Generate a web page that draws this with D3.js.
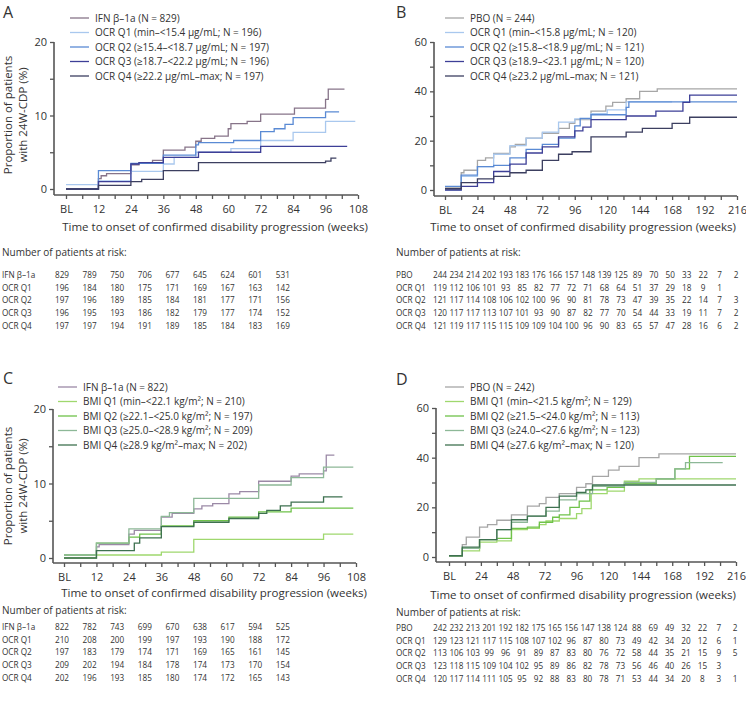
<!DOCTYPE html>
<html><head><meta charset="utf-8">
<script src="https://cdn.jsdelivr.net/npm/d3@7"></script>
<style>
body{margin:0;background:#fff;}
svg text{font-family:"Open Sans",sans-serif;fill:#333;}
</style>
</head><body>
<svg id="c" width="746" height="706"></svg>
<script>
// ---------- DATA ----------
// step curves: [week, cumulative % with 24W-CDP]; last point = end of follow-up
const A_IFN = [[0,0],[12,1.4],[13,1.8],[15,2.1],[24,3.3],[27,3.6],[32,3.9],[36,5.3],[44,5.7],[48,6.5],[50,6.9],[55,7.2],[60,8.2],[61,8.9],[67,9.2],[72,10.2],[84.5,11.0],[96,12.2],[97,13.6],[103,13.6]];
const A_Q1 = [[0,0.6],[12,1.1],[24,2.4],[36,3.4],[40,4.3],[48,5.0],[61,5.5],[72,6.6],[84,7.7],[96,9.2],[107,9.2]];
const A_Q2 = [[0,0],[12,2.5],[24,3.5],[36,4.6],[48,6.0],[49,6.3],[62,6.6],[72,7.8],[77,8.2],[81,8.8],[84,9.7],[96,10.5],[101,10.5]];
const A_Q3 = [[0,0],[12,1.0],[24,3.4],[27,3.6],[36,4.3],[49,5.0],[72,5.8],[104,5.8]];
const A_Q4 = [[0,0],[12,0.5],[24,1.0],[28,1.3],[36,2.5],[49,3.6],[96,3.8],[98,4.2],[100,4.2]];

const B_PBO = [[0,1.2],[12,7],[14,8],[24,12],[30,13],[36,14.8],[48,17.5],[52,18.5],[60,21],[72,23],[84,25],[92,27],[96,28.5],[108,32],[119,34],[124,35.5],[134,37],[144,40],[157,41],[216,41]];
const B_Q1 = [[0,0],[12,5.5],[24,9.5],[36,14.5],[48,18],[60,21],[72,23.5],[84,27.5],[96,28.8],[108,31],[120,32.5],[134,35.7],[168,35.7]];
const B_Q2 = [[0,1.5],[12,6],[24,9.5],[36,10],[48,13],[60,16.5],[72,18.5],[84,21],[96,26],[100,29],[108,30.5],[134,33.5],[136,35.7],[216,35.7]];
const B_Q3 = [[0,0],[12,1.5],[24,3],[36,7.5],[48,10.5],[60,15],[72,17.5],[84,21.5],[96,24],[102,25.5],[108,28.5],[134,30],[156,32],[176,35.5],[181,38.5],[216,38.5]];
const B_Q4 = [[0,0.5],[12,3],[24,4.5],[36,5.5],[48,7],[60,8],[72,12],[84,14.5],[94,15.5],[108,21.5],[134,23.5],[146,25],[168,27],[181,29.5],[216,29.5]];

const C_IFN = [[0,0],[12,1.5],[13,1.8],[24,3.2],[26,3.7],[36,5.5],[40,6.0],[48,6.6],[51,7.0],[55,7.3],[61,8.6],[65,8.9],[72,10.3],[84,11.0],[87,11.3],[96,11.7],[97,13.8],[100,13.8]];
const C_Q1 = [[0,0],[12,0.4],[36,0.8],[48,2.5],[96,3.2],[107,3.2]];
const C_Q2 = [[0,0.4],[12,2.0],[24,2.8],[28,3.2],[36,4.3],[48,5.0],[61,5.5],[72,6.2],[84,6.7],[107,6.7]];
const C_Q3 = [[0,0.4],[12,2.0],[24,3.9],[36,5.6],[39,6.1],[48,8.0],[72,9.8],[84,10.8],[96,12.2],[107,12.2]];
const C_Q4 = [[0,0],[12,1.0],[26,2.0],[28,2.7],[36,4.2],[48,4.8],[61,5.3],[72,6.0],[75,6.4],[80,7.0],[84,7.5],[96,8.2],[103,8.2]];

const D_PBO = [[0,0.5],[10,5],[13,8],[23,12],[29,13],[36,14.8],[47,17],[59,20.5],[68,21.5],[73,24],[83,25.5],[96,28],[103,29.5],[108,32.5],[120,35],[128,36.5],[143,40],[158,41.5],[216,41.5]];
const D_Q1 = [[0,0.5],[10,2.5],[23,6.0],[36,6.5],[47,11],[59,11.5],[68,13],[73,14.5],[83,15.5],[96,17.5],[100,19.5],[107,25.5],[119,26.5],[132,30.5],[143,31.5],[216,31.5]];
const D_Q2 = [[0,0.5],[10,3.5],[23,7],[36,7.5],[47,11.5],[59,12],[68,14],[78,16],[83,17],[91,20],[98,22.5],[106,27],[119,28],[132,29.5],[156,31.5],[170,35.5],[181,40.5],[216,40.5]];
const D_Q3 = [[0,0.5],[10,3.5],[23,7],[36,11],[47,14],[59,16.5],[73,18.5],[83,23],[96,25.5],[108,28.5],[132,30],[156,31.5],[170,35.5],[178,38],[206,38]];
const D_Q4 = [[0,0.5],[10,4],[23,7],[36,11],[47,15],[59,16.5],[73,20],[83,24.5],[96,26],[103,27],[108,29],[216,29]];

// legend labels
const A_legend = ["IFN β–1a (N = 829)","OCR Q1 (min–<15.4 µg/mL; N = 196)","OCR Q2 (≥15.4–<18.7 µg/mL; N = 197)","OCR Q3 (≥18.7–<22.2 µg/mL; N = 196)","OCR Q4 (≥22.2 µg/mL–max; N = 197)"];
const B_legend = ["PBO (N = 244)","OCR Q1 (min–<15.8 µg/mL; N = 120)","OCR Q2 (≥15.8–<18.9 µg/mL; N = 121)","OCR Q3 (≥18.9–<23.1 µg/mL; N = 120)","OCR Q4 (≥23.2 µg/mL–max; N = 121)"];
const C_legend = ["IFN β–1a (N = 822)","BMI Q1 (min–<22.1 kg/m²; N = 210)","BMI Q2 (≥22.1–<25.0 kg/m²; N = 197)","BMI Q3 (≥25.0–<28.9 kg/m²; N = 209)","BMI Q4 (≥28.9 kg/m²–max; N = 202)"];
const D_legend = ["PBO (N = 242)","BMI Q1 (min–<21.5 kg/m²; N = 129)","BMI Q2 (≥21.5–<24.0 kg/m²; N = 113)","BMI Q3 (≥24.0–<27.6 kg/m²; N = 123)","BMI Q4 (≥27.6 kg/m²–max; N = 120)"];

// risk tables
const A_rowLabels = ["IFN β–1a","OCR Q1","OCR Q2","OCR Q3","OCR Q4"];
const A_risk = [
 [829,789,750,706,677,645,624,601,531],
 [196,184,180,175,171,169,167,163,142],
 [197,196,189,185,184,181,177,171,156],
 [196,195,193,186,182,179,177,174,152],
 [197,197,194,191,189,185,184,183,169]];
const B_rowLabels = ["PBO","OCR Q1","OCR Q2","OCR Q3","OCR Q4"];
const B_risk = [
 [244,234,214,202,193,183,176,166,157,148,139,125,89,70,50,33,22,7,2],
 [119,112,106,101,93,85,82,77,72,71,68,64,51,37,29,18,9,1],
 [121,117,114,108,106,102,100,96,90,81,78,73,47,39,35,22,14,7,3],
 [120,117,117,113,107,101,93,90,87,82,77,70,54,44,33,19,11,7,2],
 [121,119,117,115,115,109,109,104,100,96,90,83,65,57,47,28,16,6,2]];
const C_rowLabels = ["IFN β–1a","OCR Q1","OCR Q2","OCR Q3","OCR Q4"];
const C_risk = [
 [822,782,743,699,670,638,617,594,525],
 [210,208,200,199,197,193,190,188,172],
 [197,183,179,174,171,169,165,161,145],
 [209,202,194,184,178,174,173,170,154],
 [202,196,193,185,180,174,172,165,143]];
const D_rowLabels = ["PBO","OCR Q1","OCR Q2","OCR Q3","OCR Q4"];
const D_risk = [
 [242,232,213,201,192,182,175,165,156,147,138,124,88,69,49,32,22,7,2],
 [129,123,121,117,115,108,107,102,96,87,80,73,49,42,34,20,12,6,1],
 [113,106,103,99,96,91,89,87,83,80,76,72,58,44,35,21,15,9,5],
 [123,118,115,109,104,102,95,89,86,82,78,73,56,46,40,26,15,3],
 [120,117,114,111,105,95,92,88,83,80,78,71,53,44,34,20,8,3,1]];

const xTitle = "Time to onset of confirmed disability progression (weeks)";
const riskTitle = "Number of patients at risk:";
const yTitle = ["Proportion of patients","with 24W-CDP (%)"];

// colours
const colIFN_A = "#877489", colIFN_C = "#9b89a6", colPBO = "#a6a6a6";
const colOCR = ["#a9c8ee","#5a8ad4","#3d3f97","#3c3f60"];
const colBMI = ["#9fd86e","#6fc24a","#8db897","#3e7150"];

// ---------- DRAW ----------
const svg = d3.select("#c");
const axisCol = "#555";

function drawPanel(p){
  const g = svg.append("g");
  const x = d3.scaleLinear().domain([0,p.xmax]).range(p.xr);
  const y = d3.scaleLinear().domain([0,p.ymax]).range(p.yr);
  // panel letter
  g.append("text").attr("x",p.letterX).attr("y",p.letterY).attr("font-size",16).text(p.letter);
  // y axis
  const ya = g.append("g").attr("transform",`translate(${p.yAxisX},0)`)
    .call(d3.axisLeft(y).tickValues(d3.range(0,p.ymax+0.001,p.ystep)).tickSize(4).tickPadding(3)
      .tickFormat(d=> (d % p.ylab===0)? d : ""));
  ya.select(".domain").remove();
  ya.selectAll("line").attr("stroke",axisCol).attr("stroke-width",1.3);
  ya.selectAll("text").attr("font-size",11).style("font-family","Open Sans").attr("fill","#333");
  g.append("line").attr("x1",p.yAxisX).attr("x2",p.yAxisX).attr("y1",y(p.ymax)).attr("y2",p.xAxisY)
    .attr("stroke",axisCol).attr("stroke-width",1.6);
  // x axis
  const xa = g.append("g").attr("transform",`translate(0,${p.xAxisY})`)
    .call(d3.axisBottom(x).tickValues(d3.range(0,p.xmax+0.001,p.xstep)).tickSize(4).tickPadding(6)
      .tickFormat(d=> d===0 ? "BL" : (d % p.xlab===0 ? d : "")));
  xa.select(".domain").remove();
  xa.selectAll("line").attr("stroke",axisCol).attr("stroke-width",1.3);
  xa.selectAll("text").attr("font-size",11).style("font-family","Open Sans").attr("fill","#333");
  g.append("line").attr("x1",p.yAxisX).attr("x2",x(p.xmax)).attr("y1",p.xAxisY).attr("y2",p.xAxisY)
    .attr("stroke",axisCol).attr("stroke-width",1.6);
  // x title
  g.append("text").attr("x",p.xTitleX).attr("y",p.xTitleY).attr("text-anchor","middle")
    .attr("font-size",11.5).text(xTitle);
  // y title
  if(p.yTitle){
    yTitle.forEach((t,i)=>{
      g.append("text").attr("transform",`translate(${p.yTitleX+i*15},${p.yTitleMid}) rotate(-90)`)
        .attr("text-anchor","middle").attr("font-size",11.5).text(t);
    });
  }
  // curves
  const line = d3.line().x(d=>x(d[0])).y(d=>y(d[1])).curve(d3.curveStepAfter);
  p.series.forEach((s,i)=>{
    g.append("path").datum(s.data).attr("d",line).attr("fill","none")
      .attr("stroke",s.color).attr("stroke-width",1.3);
  });
  // legend
  p.series.forEach((s,i)=>{
    const ly = p.legY + i*p.legStep;
    g.append("line").attr("x1",p.legX).attr("x2",p.legX+19).attr("y1",ly).attr("y2",ly)
      .attr("stroke",s.color).attr("stroke-width",1.3);
    g.append("text").attr("x",p.legX+25).attr("y",ly).attr("dy","0.35em").attr("font-size",10).text(s.label);
  });
  // risk table
  g.append("text").attr("x",p.tabLabX).attr("y",p.riskTitleY).attr("dy","0.35em").attr("font-size",10).text(riskTitle);
  p.rowLabels.forEach((lab,r)=>{
    const ry = p.rowY0 + r*p.rowStep;
    g.append("text").attr("x",p.tabLabX).attr("y",ry).attr("dy","0.35em").attr("font-size",8.2).text(lab);
    p.risk[r].forEach((v,c)=>{
      g.append("text").attr("x",p.col0 + c*p.colStep).attr("y",ry).attr("dy","0.35em")
        .attr("text-anchor","middle").attr("font-size",8.2).text(v);
    });
  });
}

drawPanel({letter:"A",letterX:3,letterY:18,xmax:108,xr:[66,358],ymax:20,yr:[189,42],
  yAxisX:54,xAxisY:195,ystep:5,ylab:10,xstep:6,xlab:12,xTitleX:215,xTitleY:231,
  yTitle:true,yTitleX:12,yTitleMid:115,legX:70,legY:18,legStep:14.5,
  tabLabX:2,riskTitleY:252,rowY0:275,rowStep:12.7,col0:62,colStep:27.6,
  rowLabels:A_rowLabels,risk:A_risk,
  series:[{data:A_IFN,color:colIFN_A,label:A_legend[0]},{data:A_Q1,color:colOCR[0],label:A_legend[1]},
    {data:A_Q2,color:colOCR[1],label:A_legend[2]},{data:A_Q3,color:colOCR[2],label:A_legend[3]},
    {data:A_Q4,color:colOCR[3],label:A_legend[4]}]});

drawPanel({letter:"B",letterX:396,letterY:18,xmax:216,xr:[445,737],ymax:60,yr:[190,42],
  yAxisX:434,xAxisY:196,ystep:10,ylab:20,xstep:12,xlab:24,xTitleX:583,xTitleY:231,
  yTitle:false,legX:445,legY:18,legStep:14.5,
  tabLabX:396,riskTitleY:252,rowY0:275,rowStep:12.7,col0:440,colStep:16.45,
  rowLabels:B_rowLabels,risk:B_risk,
  series:[{data:B_PBO,color:colPBO,label:B_legend[0]},{data:B_Q1,color:colOCR[0],label:B_legend[1]},
    {data:B_Q2,color:colOCR[1],label:B_legend[2]},{data:B_Q3,color:colOCR[2],label:B_legend[3]},
    {data:B_Q4,color:colOCR[3],label:B_legend[4]}]});

drawPanel({letter:"C",letterX:3,letterY:384,xmax:108,xr:[64,356],ymax:20,yr:[558,409],
  yAxisX:53,xAxisY:563,ystep:5,ylab:10,xstep:6,xlab:12,xTitleX:214,xTitleY:597,
  yTitle:true,yTitleX:12,yTitleMid:486,legX:58,legY:387,legStep:14.5,
  tabLabX:2,riskTitleY:610,rowY0:627,rowStep:12.7,col0:62,colStep:27.6,
  rowLabels:C_rowLabels,risk:C_risk,
  series:[{data:C_IFN,color:colIFN_C,label:C_legend[0]},{data:C_Q1,color:colBMI[0],label:C_legend[1]},
    {data:C_Q2,color:colBMI[1],label:C_legend[2]},{data:C_Q3,color:colBMI[2],label:C_legend[3]},
    {data:C_Q4,color:colBMI[3],label:C_legend[4]}]});

drawPanel({letter:"D",letterX:396,letterY:385,xmax:216,xr:[449,736],ymax:60,yr:[557,408],
  yAxisX:436,xAxisY:562,ystep:10,ylab:20,xstep:12,xlab:24,xTitleX:583,xTitleY:599,
  yTitle:false,legX:445,legY:387,legStep:14.5,
  tabLabX:396,riskTitleY:612,rowY0:628,rowStep:12.7,col0:440,colStep:16.4,
  rowLabels:D_rowLabels,risk:D_risk,
  series:[{data:D_PBO,color:colPBO,label:D_legend[0]},{data:D_Q1,color:colBMI[0],label:D_legend[1]},
    {data:D_Q2,color:colBMI[1],label:D_legend[2]},{data:D_Q3,color:colBMI[2],label:D_legend[3]},
    {data:D_Q4,color:colBMI[3],label:D_legend[4]}]});
</script>
</body></html>
